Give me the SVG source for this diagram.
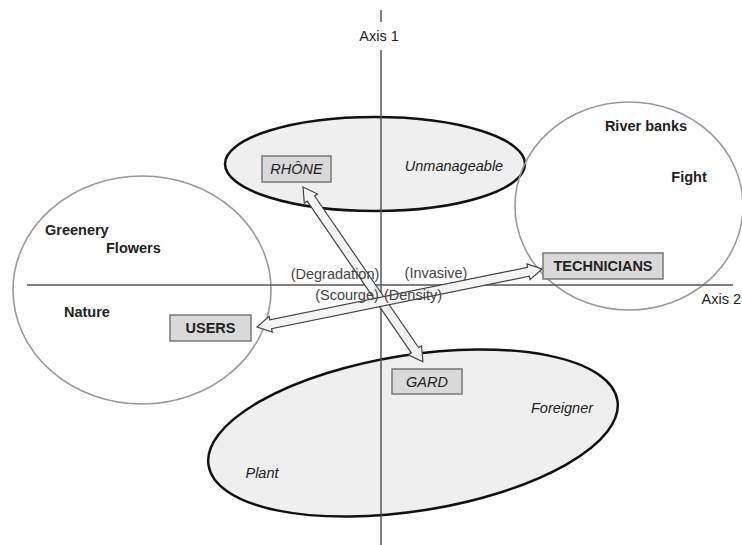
<svg xmlns="http://www.w3.org/2000/svg" width="742" height="545" viewBox="0 0 742 545">
<style>
text{font-family:"Liberation Sans",Arial,sans-serif;font-size:14.5px;fill:#222}
.b{font-weight:bold}
.i{font-style:italic}
.lbl{fill:#444}
.zone{fill:#efefef;stroke:#111;stroke-width:2.5}
.circ{fill:none;stroke:#999;stroke-width:1.6}
.axis{stroke:#555;stroke-width:1.5;fill:none}
.box{fill:#d9d9d9;stroke:#777;stroke-width:1.5}
.arr{fill:#f4f4f4;stroke:#444;stroke-width:1.2;stroke-linejoin:miter}
</style>
<rect width="742" height="545" fill="#fff"/>
<g id="zone-unmanageable">
<ellipse class="zone" cx="375" cy="164" rx="150" ry="47"/>
<text class="i" x="454" y="171" text-anchor="middle">Unmanageable</text>
</g>
<g id="zone-plant">
<ellipse class="zone" cx="413" cy="433" rx="207" ry="78" transform="rotate(-9 413 433)"/>
<text class="i" x="562" y="413" text-anchor="middle">Foreigner</text>
<text class="i" x="262" y="478" text-anchor="middle">Plant</text>
</g>
<g id="zone-users">
<ellipse class="circ" cx="142" cy="290" rx="129" ry="114"/>
<text class="b" x="45" y="235">Greenery</text>
<text class="b" x="106" y="253">Flowers</text>
<text class="b" x="64" y="317">Nature</text>
</g>
<g id="zone-technicians">
<ellipse class="circ" cx="629" cy="206" rx="114" ry="104"/>
<text class="b" x="646" y="131" text-anchor="middle">River banks</text>
<text class="b" x="689" y="182" text-anchor="middle">Fight</text>
</g>
<g id="axes">
<line class="axis" x1="381" y1="10" x2="381" y2="22"/>
<line class="axis" x1="381" y1="50" x2="381" y2="545"/>
<text x="379" y="41" text-anchor="middle">Axis 1</text>
<line class="axis" x1="27" y1="285" x2="733" y2="285"/>
<text x="741" y="304" text-anchor="end">Axis 2</text>
</g>
<g id="connectors">
<path class="arr" transform="translate(303 187) rotate(55.56)" d="M0 0L14 -8L14 -4.5L198 -4.5L198 -8L212 0L198 8L198 4.5L14 4.5L14 8Z"/>
<path class="arr" transform="translate(257 327) rotate(-11.5)" d="M0 0L14 -8L14 -4.5L277 -4.5L277 -8L291 0L277 8L277 4.5L14 4.5L14 8Z"/>
</g>
<g id="labels">
<text class="lbl" x="335" y="279" text-anchor="middle">(Degradation)</text>
<text class="lbl" x="436" y="278" text-anchor="middle">(Invasive)</text>
<text class="lbl" x="347" y="300" text-anchor="middle">(Scourge)</text>
<text class="lbl" x="413" y="300" text-anchor="middle">(Density)</text>
</g>
<g id="node-rhone">
<rect class="box" x="262" y="156" width="69" height="26"/>
<text class="i" x="296.5" y="174" text-anchor="middle">RHÔNE</text>
</g>
<g id="node-gard">
<rect class="box" x="392" y="369" width="70" height="25"/>
<text class="i" x="427" y="387" text-anchor="middle">GARD</text>
</g>
<g id="node-users">
<rect class="box" x="170" y="315" width="81" height="26"/>
<text class="b" x="210.5" y="333" text-anchor="middle">USERS</text>
</g>
<g id="node-technicians">
<rect class="box" x="543" y="253" width="120" height="26"/>
<text class="b" x="603" y="271" text-anchor="middle">TECHNICIANS</text>
</g>
</svg>
